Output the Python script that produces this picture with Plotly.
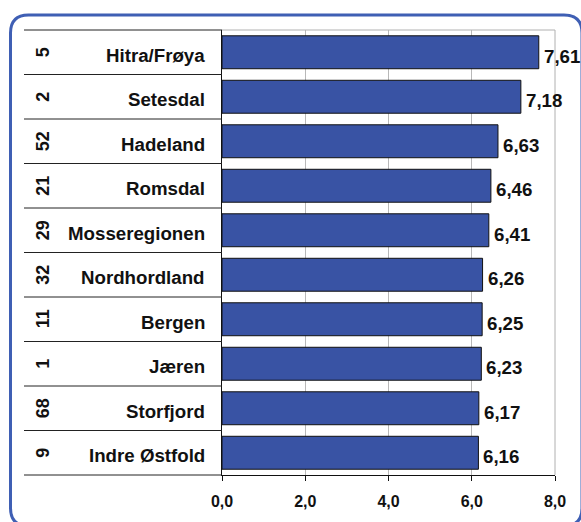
import plotly.graph_objects as go

regions = ["Hitra/Frøya", "Setesdal", "Hadeland", "Romsdal", "Mosseregionen",
           "Nordhordland", "Bergen", "Jæren", "Storfjord", "Indre Østfold"]
ranks = ["5", "2", "52", "21", "29", "32", "11", "1", "68", "9"]
values = [7.61, 7.18, 6.63, 6.46, 6.41, 6.26, 6.25, 6.23, 6.17, 6.16]
x_ticks = [0, 2, 4, 6, 8]

# pixel layout (page has body margin removed, so screen == figure coords)
L, R, T, B = 222, 555, 30, 475
W, H = 581, 522
def px(x):
    return (x - L) / (R - L)
def py(y):
    return (B - y) / (B - T)

FONT = "Liberation Sans, Arial, sans-serif"

fig = go.Figure()
fig.add_trace(go.Bar(
    x=values, y=regions, orientation="h",
    marker=dict(color="#3953A4", line=dict(color="#111111", width=1)),
    width=0.74, hoverinfo="x+y",
))

shapes = []
n = len(regions)
row_h = (B - T) / n
for i in range(n + 1):
    yy = T + i * row_h
    shapes.append(dict(type="line", xref="paper", yref="paper",
                       x0=px(24), x1=0, y0=py(yy), y1=py(yy),
                       line=dict(color="#222222", width=1)))
shapes.append(dict(type="line", xref="paper", yref="paper", x0=0, x1=1,
                   y0=1, y1=1, line=dict(color="#B0B0B0", width=1)))
shapes.append(dict(type="line", xref="paper", yref="paper", x0=1, x1=1,
                   y0=0, y1=1, line=dict(color="#B0B0B0", width=1), layer="below"))

# rounded frame (screen coords)
x0f, x1f, y0f, y1f, r = 10.5, 582, 15, 526, 18
path = (f"M {px(x0f)},{py(y0f + r)} "
        f"Q {px(x0f)},{py(y0f)} {px(x0f + r)},{py(y0f)} "
        f"L {px(x1f - r)},{py(y0f)} "
        f"Q {px(x1f)},{py(y0f)} {px(x1f)},{py(y0f + r)} "
        f"L {px(x1f)},{py(y1f - r)} "
        f"Q {px(x1f)},{py(y1f)} {px(x1f - r)},{py(y1f)} "
        f"L {px(x0f + r)},{py(y1f)} "
        f"Q {px(x0f)},{py(y1f)} {px(x0f)},{py(y1f - r)} Z")
shapes.append(dict(type="path", xref="paper", yref="paper", path=path,
                   line=dict(color="#3F5FB4", width=3)))

annotations = []
for name, rk, v in zip(regions, ranks, values):
    annotations.append(dict(x=px(207), y=name, xref="paper", yref="y",
                            text=name, showarrow=False, yshift=-3,
                            xanchor="right", yanchor="middle",
                            font=dict(family=FONT, size=18.7, color="#111111", weight="bold")))
    annotations.append(dict(x=px(43), y=name, xref="paper", yref="y",
                            text=rk, showarrow=False, textangle=-90,
                            xanchor="center", yanchor="middle",
                            font=dict(family=FONT, size=18, color="#111111", weight="bold")))
    annotations.append(dict(x=v, y=name, xref="x", yref="y",
                            text=f"{v:.2f}".replace(".", ","), showarrow=False,
                            xanchor="left", yanchor="middle", xshift=3, yshift=-4,
                            font=dict(family=FONT, size=18.7, color="#111111", weight="bold")))

fig.update_layout(
    width=W, height=H,
    margin=dict(l=L, r=W - R, t=T, b=H - B),
    paper_bgcolor="white", plot_bgcolor="white",
    separators=", ",
    showlegend=False,
    shapes=shapes, annotations=annotations,
    xaxis=dict(range=[0, 8], tickvals=x_ticks, tickformat=".1f",
               showgrid=True, gridcolor="#B8B8B8", gridwidth=1,
               showline=True, linecolor="#111111", linewidth=1,
               ticks="outside", ticklen=5, tickcolor="#111111",
               ticklabelstandoff=7,
               tickfont=dict(family=FONT, size=16, color="#111111", weight="bold"),
               zeroline=False, fixedrange=True),
    yaxis=dict(autorange="reversed", showticklabels=False, showgrid=False,
               showline=True, linecolor="#111111", linewidth=1, ticks="",
               fixedrange=True),
)

fig.write_html("out.html", config={"displayModeBar": False},
               post_script="document.body.style.margin='0';document.body.style.overflow='hidden';")
